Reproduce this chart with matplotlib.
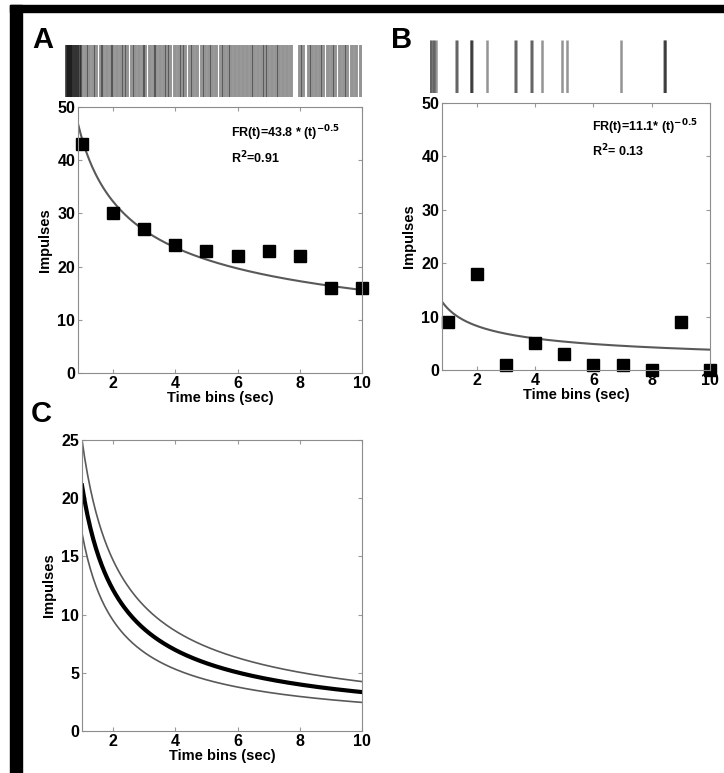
import numpy as np
import matplotlib.pyplot as plt
from matplotlib.patches import Rectangle

plt.rcParams['font.family'] = ['Liberation Sans', 'DejaVu Sans']
plt.rcParams['font.weight'] = 'bold'

# panel A data
bins = np.arange(1, 11)
imp_a = [43, 30, 27, 24, 23, 22, 23, 22, 16, 16]
curve_a = (44.0, -0.45)   # drawn fit curve
spikes_a = [0.02, 0.06, 0.10, 0.13, 0.17, 0.20, 0.24, 0.28, 0.32, 0.36, 0.41, 0.46, 0.52, 0.58,
            0.70, 0.80, 0.95, 1.05, 1.20, 1.28, 1.40, 1.55, 1.62, 1.75, 1.90, 2.00, 2.10, 2.25,
            2.35, 2.50, 2.62, 2.70, 2.85, 3.00, 3.08, 3.20, 3.35, 3.45, 3.55, 3.70, 3.85, 3.95,
            4.05, 4.20, 4.30, 4.45, 4.60, 4.70, 4.85, 4.95, 5.10, 5.25, 5.35, 5.50, 5.60, 5.72,
            5.85, 6.00, 6.12, 6.25, 6.38, 6.50, 6.62, 6.72, 6.85, 6.98, 7.10, 7.22, 7.35, 7.48,
            7.60, 7.90, 8.00, 8.20, 8.30, 8.45, 8.60, 8.70, 8.85, 9.00, 9.10,
            9.25, 9.40, 9.50, 9.65, 9.80, 9.95]

# panel B data
imp_b = [9, 18, 1, 5, 3, 1, 1, 0, 9, 0]
curve_b = (11.5, -0.48)
spikes_b = [0.0, 0.05, 0.10, 0.15, 0.20, 0.93, 0.95, 1.46, 1.48, 1.50, 2.04, 3.04, 3.06,
            3.61, 3.63, 4.0, 4.71, 4.89, 6.82, 8.37, 8.39, 8.41]

# panel C: power-law curves (amplitude, exponent)
amp_c = [25.0, 21.1, 17.0]
exp_c = [-0.77, -0.80, -0.84]

W, H = 724, 773
fig = plt.figure(figsize=(W / 100, H / 100), dpi=100)


def box(px):
    l, t, r, b = px
    return [l / W, 1 - b / H, (r - l) / W, (b - t) / H]


def style(ax):
    for s in ax.spines.values():
        s.set_color('0.55')
        s.set_linewidth(0.8)
    ax.tick_params(direction='in', length=3, color='0.6', top=True, right=True,
                   labelsize=11.5, pad=2)
    for lab in ax.get_xticklabels() + ax.get_yticklabels():
        lab.set_fontweight('bold')


def raster(ax, spikes, lw):
    ax.vlines(spikes, 0, 1, color='k', alpha=0.42, linewidth=lw)
    ax.set_xlim(0, 10)
    ax.set_ylim(0, 1)
    ax.axis('off')


# A
ra = fig.add_axes(box((65, 45, 362, 97)))
raster(ra, spikes_a, 2.8)
ax = fig.add_axes(box((78, 107, 362, 373)))
t = np.linspace(0.87, 10, 200)
ax.plot(t, curve_a[0] * t ** curve_a[1], color='0.35', lw=1.5)
ax.plot(bins, imp_a, 's', color='k', ms=9, clip_on=False)
ax.set_xlim(0.87, 10)
ax.set_ylim(0, 50)
ax.set_xticks([2, 4, 6, 8, 10])
ax.set_yticks([0, 10, 20, 30, 40, 50])
ax.set_xlabel('Time bins (sec)', fontsize=10.5, fontweight='bold', labelpad=0)
ax.set_ylabel('Impulses', fontsize=10.5, fontweight='bold', labelpad=4)
ax.text(0.54, 0.885, 'FR(t)=43.8 * (t)$^{\\mathbf{-0.5}}$', transform=ax.transAxes,
        fontsize=9, fontweight='bold')
ax.text(0.54, 0.79, 'R$^{\\mathbf{2}}$=0.91', transform=ax.transAxes,
        fontsize=9, fontweight='bold')
style(ax)

# B
rb = fig.add_axes(box((430, 40, 710, 93)))
raster(rb, spikes_b, 1.8)
ax = fig.add_axes(box((442, 103, 710, 370)))
t = np.linspace(0.8, 10, 200)
ax.plot(t, curve_b[0] * t ** curve_b[1], color='0.35', lw=1.5)
ax.plot(bins, imp_b, 's', color='k', ms=9, clip_on=False)
ax.set_xlim(0.8, 10)
ax.set_ylim(0, 50)
ax.set_xticks([2, 4, 6, 8, 10])
ax.set_yticks([0, 10, 20, 30, 40, 50])
ax.set_xlabel('Time bins (sec)', fontsize=10.5, fontweight='bold', labelpad=0)
ax.set_ylabel('Impulses', fontsize=10.5, fontweight='bold', labelpad=4)
ax.text(0.56, 0.895, 'FR(t)=11.1* (t)$^{\\mathbf{-0.5}}$', transform=ax.transAxes,
        fontsize=9, fontweight='bold')
ax.text(0.56, 0.80, 'R$^{\\mathbf{2}}$= 0.13', transform=ax.transAxes,
        fontsize=9, fontweight='bold')
style(ax)

# C
ax = fig.add_axes(box((82, 440, 362, 731)))
t = np.linspace(1, 10, 200)
for a, e, lw, c in zip(amp_c, exp_c, [1.2, 3.0, 1.2], ['0.35', 'k', '0.35']):
    ax.plot(t, a * t ** e, color=c, lw=lw)
ax.set_xlim(1, 10)
ax.set_ylim(0, 25)
ax.set_xticks([2, 4, 6, 8, 10])
ax.set_yticks([0, 5, 10, 15, 20, 25])
ax.set_xlabel('Time bins (sec)', fontsize=10.5, fontweight='bold', labelpad=0)
ax.set_ylabel('Impulses', fontsize=10.5, fontweight='bold', labelpad=4)
style(ax)

# panel letters
fig.text(32 / W, 1 - 48 / H, 'A', fontsize=21, fontweight='bold')
fig.text(391 / W, 1 - 48 / H, 'B', fontsize=21, fontweight='bold')
fig.text(31 / W, 1 - 422 / H, 'C', fontsize=21, fontweight='bold')

# black frame bands
fig.patches.append(Rectangle((10 / W, 1 - 12 / H), 1, 7 / H, transform=fig.transFigure,
                             color='k', zorder=-1))
fig.patches.append(Rectangle((10 / W, 0), 12 / W, 1 - 5 / H, transform=fig.transFigure,
                             color='k', zorder=-1))

fig.savefig('out.png', dpi=100)
